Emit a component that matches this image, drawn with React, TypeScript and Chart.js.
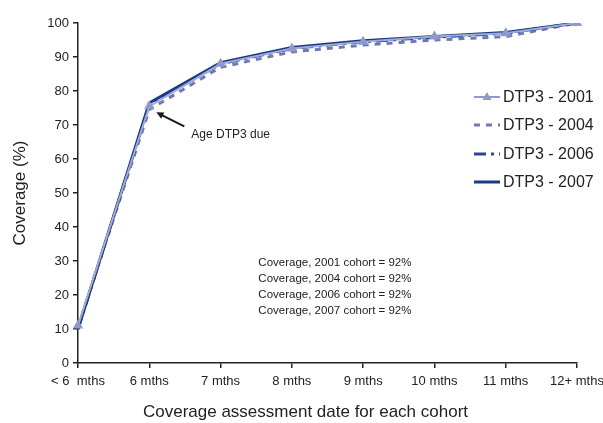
import React, { useEffect, useRef } from "react";
import { Chart, registerables } from "chart.js";

Chart.register(...registerables);

const categories = ["< 6  mths", "6 mths", "7 mths", "8 mths", "9 mths", "10 mths", "11 mths", "12+ mths"];
const dtp2001 = [11, 75.5, 88, 92.5, 94.5, 96, 97, 100];
const dtp2004 = [10.5, 74.5, 87, 91.5, 93.5, 95, 96, 100];
const dtp2006 = [10, 76, 88, 92.5, 94.5, 95.8, 97, 100];
const dtp2007 = [10, 76.5, 88.3, 92.8, 94.8, 96, 97.2, 100];
const seriesLabels = ["DTP3 - 2001", "DTP3 - 2004", "DTP3 - 2006", "DTP3 - 2007"];
const coverageNotes = [
  "Coverage, 2001 cohort = 92%",
  "Coverage, 2004 cohort = 92%",
  "Coverage, 2006 cohort = 92%",
  "Coverage, 2007 cohort = 92%",
];
const annotationText = "Age DTP3 due";
const xTitle = "Coverage assessment date for each cohort";

const FONT = "'Liberation Sans', Arial, Helvetica, sans-serif";
const C2001 = "#8F98CC";
const C2004 = "#6E78B8";
const C2006 = "#2C4795";
const C2007 = "#173A8A";

const extrasPlugin = {
  id: "extras",
  afterDraw(chart: any) {
    const ctx = chart.ctx;
    const xs = chart.scales.x;
    const ys = chart.scales.y;
    ctx.save();
    // annotation arrow
    const px = xs.getPixelForValue(1);
    const py = ys.getPixelForValue(dtp2001[1]);
    const hx = px + 7, hy = py + 6;
    const tx = px + 35, ty = py + 20;
    ctx.strokeStyle = "#1a1a1a";
    ctx.fillStyle = "#1a1a1a";
    ctx.lineWidth = 2;
    const ang = Math.atan2(hy - ty, hx - tx);
    ctx.beginPath();
    ctx.moveTo(tx, ty);
    ctx.lineTo(hx + Math.cos(ang + Math.PI) * 5, hy + Math.sin(ang + Math.PI) * 5);
    ctx.stroke();
    ctx.beginPath();
    ctx.moveTo(hx, hy);
    ctx.lineTo(hx - 8 * Math.cos(ang - 0.45), hy - 8 * Math.sin(ang - 0.45));
    ctx.lineTo(hx - 8 * Math.cos(ang + 0.45), hy - 8 * Math.sin(ang + 0.45));
    ctx.closePath();
    ctx.fill();
    ctx.font = "12px " + FONT;
    ctx.fillStyle = "#222";
    ctx.textAlign = "left";
    ctx.textBaseline = "middle";
    ctx.fillText(annotationText, px + 42, py + 28);

    // coverage notes
    ctx.font = "11.5px " + FONT;
    const nx = xs.getPixelForValue(2.53);
    coverageNotes.forEach((t, i) => {
      ctx.fillText(t, nx, ys.getPixelForValue(29.5) + i * 16);
    });

    // x axis title
    ctx.font = "17px " + FONT;
    ctx.textAlign = "center";
    ctx.fillText(xTitle, chart.width / 2 + 4, chart.height - 11);
    ctx.textAlign = "left";

    // legend
    const lx0 = 474, lx1 = 500;
    const ly = [97, 125, 154, 182];
    ctx.font = "16px " + FONT;
    ctx.fillStyle = "#222";
    const styles = [
      { c: C2001, w: 2, d: [] as number[], tri: true },
      { c: C2004, w: 3, d: [6, 6], tri: false },
      { c: C2006, w: 3, d: [12, 5, 3, 5], tri: false },
      { c: C2007, w: 3, d: [] as number[], tri: false },
    ];
    styles.forEach((s, i) => {
      const y = ly[i];
      ctx.strokeStyle = s.c;
      ctx.lineWidth = s.w;
      ctx.setLineDash(s.d);
      ctx.beginPath();
      ctx.moveTo(lx0, y);
      ctx.lineTo(lx1, y);
      ctx.stroke();
      ctx.setLineDash([]);
      if (s.tri) {
        const cx = (lx0 + lx1) / 2;
        ctx.fillStyle = s.c;
        ctx.beginPath();
        ctx.moveTo(cx, y - 5);
        ctx.lineTo(cx + 4.5, y + 3);
        ctx.lineTo(cx - 4.5, y + 3);
        ctx.closePath();
        ctx.fill();
      }
      ctx.fillStyle = "#222";
      ctx.fillText(seriesLabels[i], 503, y + 1);
    });
    ctx.restore();
  },
};

export default function App() {
  const ref = useRef<HTMLCanvasElement | null>(null);
  useEffect(() => {
    document.body.style.margin = "0";
    const canvas = ref.current!;
    const chart = new Chart(canvas, {
      type: "line",
      data: {
        labels: categories,
        datasets: [
          {
            label: seriesLabels[0],
            data: dtp2001,
            borderColor: "#A2AAD8",
            backgroundColor: C2001,
            borderWidth: 2,
            pointStyle: "triangle",
            pointRadius: 6,
            pointBackgroundColor: C2001,
            pointBorderColor: C2001,
            pointBorderWidth: 0,
            tension: 0,
            order: 0,
          },
          {
            label: seriesLabels[1],
            data: dtp2004,
            borderColor: C2004,
            borderWidth: 3,
            borderDash: [6, 6],
            pointRadius: 0,
            tension: 0,
            order: 3,
          },
          {
            label: seriesLabels[2],
            data: dtp2006,
            borderColor: C2006,
            borderWidth: 3,
            borderDash: [12, 5, 3, 5],
            pointRadius: 0,
            tension: 0,
            order: 2,
          },
          {
            label: seriesLabels[3],
            data: dtp2007,
            borderColor: C2007,
            borderWidth: 3,
            pointRadius: 0,
            tension: 0,
            order: 1,
          },
        ],
      },
      options: {
        responsive: false,
        animation: false,
        layout: { padding: { left: 0, right: 0, top: 23, bottom: 0 } },
        plugins: { legend: { display: false }, tooltip: { enabled: false } },
        scales: {
          x: {
            offset: false,
            grid: {
              drawOnChartArea: false,
              drawTicks: true,
              tickLength: 5,
              color: "#222",
              lineWidth: 1.5,
            },
            border: { color: "#222", width: 1.5 },
            ticks: {
              font: { family: FONT, size: 13 },
              color: "#222",
              padding: 6,
              maxRotation: 0,
              autoSkip: false,
            },
            title: { display: false },
            afterFit(scale: any) {
              scale.height = 60;
              scale.paddingRight = 26;
            },
          },
          y: {
            min: 0,
            max: 100,
            grid: {
              drawOnChartArea: false,
              drawTicks: true,
              tickLength: 5,
              color: "#222",
              lineWidth: 1.5,
            },
            border: { color: "#222", width: 1.5 },
            ticks: {
              stepSize: 10,
              font: { family: FONT, size: 13 },
              color: "#222",
              padding: 4,
            },
            title: {
              display: true,
              text: "Coverage (%)",
              font: { family: FONT, size: 17 },
              color: "#222",
              padding: { top: 10, bottom: 0 },
            },
            afterFit(scale: any) {
              scale.width = 78;
            },
          },
        },
      },
      plugins: [extrasPlugin],
    });
    return () => chart.destroy();
  }, []);
  return (
    <div style={{ width: 603, height: 423, background: "#fff" }}>
      <canvas ref={ref} width={603} height={423} style={{ display: "block" }} />
    </div>
  );
}
